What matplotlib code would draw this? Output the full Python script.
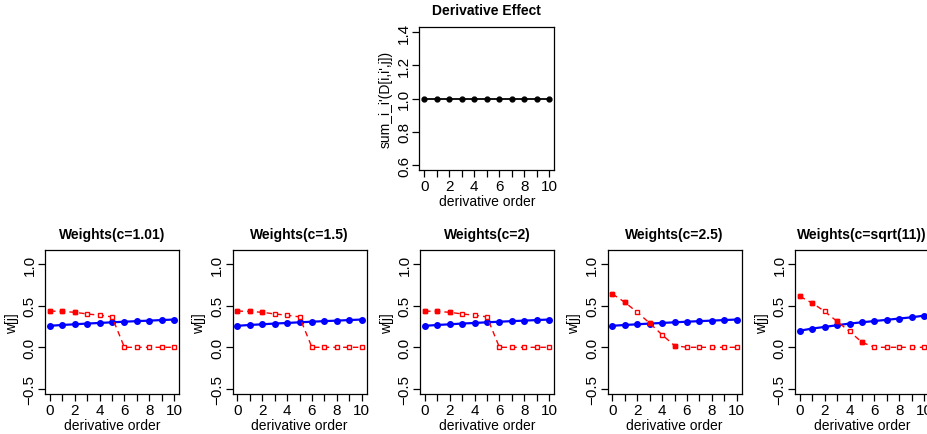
import numpy as np
import matplotlib.pyplot as plt

plt.rcParams['font.family'] = ['Liberation Sans', 'DejaVu Sans']

orders = list(range(11))
effect = [1.0] * 11

titles = ['Weights(c=1.01)', 'Weights(c=1.5)', 'Weights(c=2)',
          'Weights(c=2.5)', 'Weights(c=sqrt(11))']

blue_a = [0.258, 0.268, 0.276, 0.285, 0.292, 0.300, 0.307, 0.314, 0.320, 0.327, 0.333]
blue_b = [0.200, 0.225, 0.245, 0.265, 0.285, 0.300, 0.315, 0.330, 0.345, 0.360, 0.380]
red_a = [0.435, 0.430, 0.420, 0.400, 0.385, 0.365, 0.0, 0.0, 0.0, 0.0, 0.0]
red_c = [0.640, 0.540, 0.420, 0.290, 0.150, 0.020, 0.0, 0.0, 0.0, 0.0, 0.0]
red_d = [0.610, 0.530, 0.430, 0.310, 0.190, 0.060, 0.0, 0.0, 0.0, 0.0, 0.0]

blue_series = [blue_a, blue_a, blue_a, blue_a, blue_b]
red_series = [red_a, red_a, red_a, red_c, red_d]
# points where the red square looks filled
red_filled = [[0, 1, 2], [0, 1, 2], [0, 1, 2], [0, 1, 3, 5], [0, 1, 3, 5]]

W, H = 927, 435
fig = plt.figure(figsize=(W / 100, H / 100), dpi=100)


def box(left, top, right, bottom):
    return [left / W, 1 - bottom / H, (right - left) / W, (bottom - top) / H]


def style(ax, ylabel, yticks, ylim, label_x):
    ax.set_xlim(-0.4, 10.4)
    ax.set_ylim(*ylim)
    ax.set_xticks(orders)
    ax.set_xticklabels([str(o) if o % 2 == 0 else '' for o in orders])
    ax.set_yticks(yticks)
    ax.set_yticklabels([f'{v:.1f}'.replace('-', '\u2212') for v in yticks],
                       rotation=90, va='center')
    ax.tick_params(direction='out', length=5, width=0.9, labelsize=11, pad=1)
    for s in ax.spines.values():
        s.set_linewidth(0.9)
    ax.set_xlabel('derivative order', fontsize=10, labelpad=1)
    ax.set_ylabel(ylabel, fontsize=10)
    ax.yaxis.set_label_coords(label_x, 0.5)


# top panel
ax = fig.add_axes(box(419.3, 27.7, 554.3, 171.3))
ax.plot(orders, effect, color='black', lw=1.3, marker='o', ms=3.5)
style(ax, "sum_i_i'(D[i,i',j])", [0.6, 0.8, 1.0, 1.2, 1.4], (0.568, 1.432),
      -27 / 135)
ax.set_title('Derivative Effect', fontsize=10, fontweight='bold', pad=9)

lefts = [45, 232.5, 420, 607.5, 795]
for i in range(5):
    ax = fig.add_axes(box(lefts[i], 251.3, lefts[i] + 134, 395.3))
    ax.plot(orders, blue_series[i], color='blue', lw=1.6, marker='o', ms=4,
            mfc='blue', mec='blue')
    ax.plot(orders, red_series[i], color='red', lw=1.0, ls=(0, (4, 3)),
            marker='s', ms=3.2, mfc='white', mec='red', mew=1.0)
    fi = red_filled[i]
    ax.plot([orders[k] for k in fi], [red_series[i][k] for k in fi], ls='none',
            marker='s', ms=3, color='red')
    style(ax, 'w[j]', [-0.5, 0.0, 0.5, 1.0], (-0.564, 1.164), -26 / 134)
    ax.set_title(titles[i], fontsize=10, fontweight='bold', pad=9)

fig.savefig('out.png', dpi=100)
